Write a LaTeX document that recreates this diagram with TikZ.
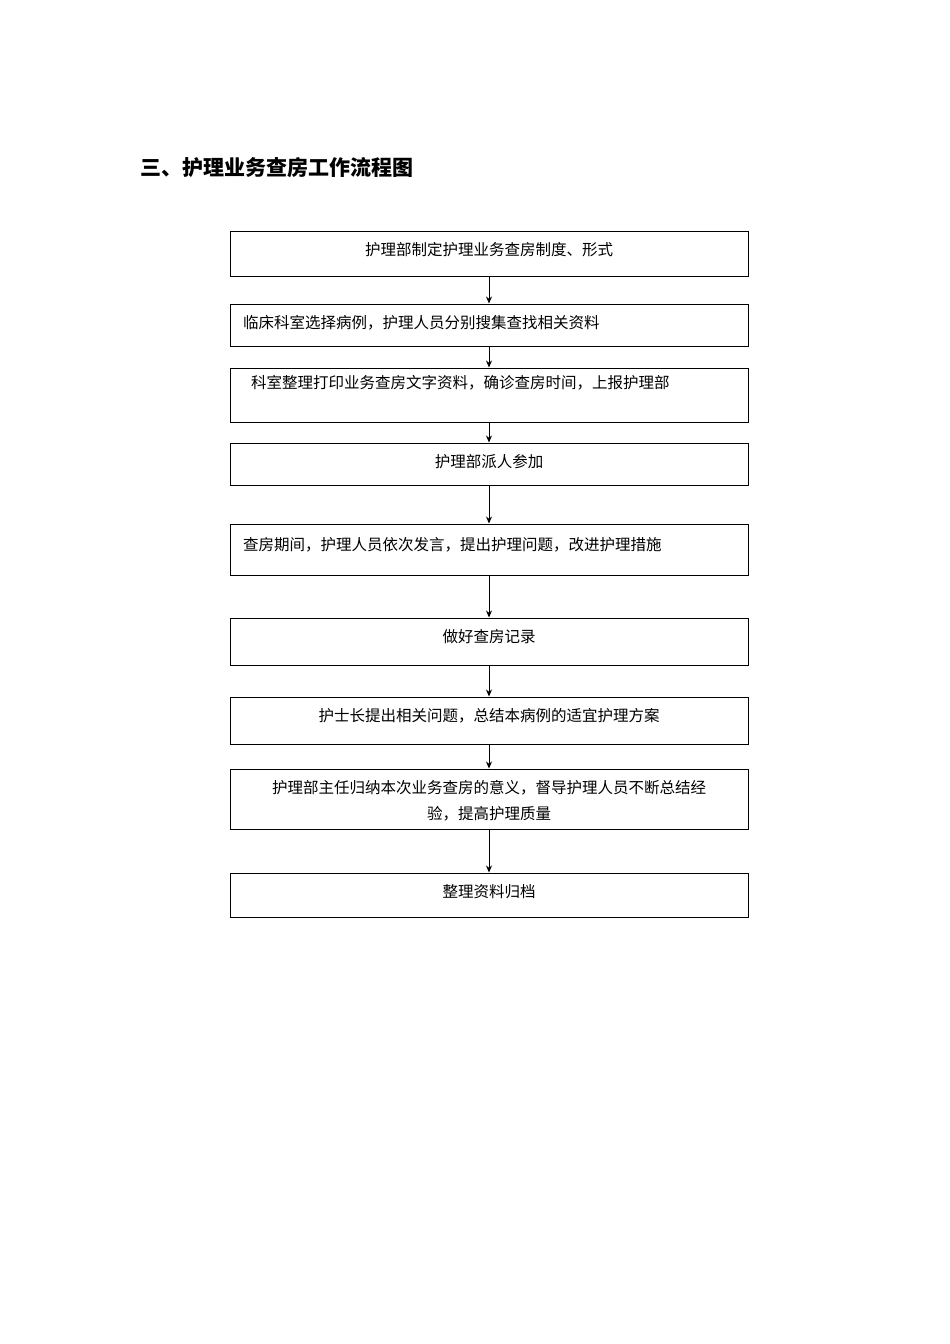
\documentclass[tikz,border=0pt]{standalone}
\usepackage{fontspec}
\newfontfamily\cjk{Noto Sans CJK SC}
\usetikzlibrary{arrows.meta}
\begin{document}
\begin{tikzpicture}[x=1pt,y=-1pt,
  box/.style={draw,line width=1pt,minimum width=518pt,inner sep=0pt},
  lbl/.style={font=\cjk\fontsize{15.5}{26}\selectfont,inner sep=0pt},
  arr/.style={-{Stealth[length=7pt,width=6pt]},line width=1pt}]
\useasboundingbox (0,0) rectangle (950,1344);
\node[anchor=west,font=\cjk\bfseries\fontsize{21}{24}\selectfont,inner sep=0pt] (title) at (140,168) {三、护理业务查房工作流程图};
\node[box,minimum height=45pt] (b1) at (489,253.5) {};
\node[box,minimum height=42pt] (b2) at (489,325) {};
\node[box,minimum height=54pt] (b3) at (489,395) {};
\node[box,minimum height=42pt] (b4) at (489,464) {};
\node[box,minimum height=51pt] (b5) at (489,549.5) {};
\node[box,minimum height=47pt] (b6) at (489,641.5) {};
\node[box,minimum height=47pt] (b7) at (489,720.5) {};
\node[box,minimum height=60pt] (b8) at (489,799) {};
\node[box,minimum height=44pt] (b9) at (489,895) {};
\node[lbl] (t1) at (489,250) {护理部制定护理业务查房制度、形式};
\node[lbl,anchor=west] (t2) at (243,323) {临床科室选择病例，护理人员分别搜集查找相关资料};
\node[lbl,anchor=west] (t3) at (251,383) {科室整理打印业务查房文字资料，确诊查房时间，上报护理部};
\node[lbl] (t4) at (489,462) {护理部派人参加};
\node[lbl,anchor=west] (t5) at (243,545) {查房期间，护理人员依次发言，提出护理问题，改进护理措施};
\node[lbl] (t6) at (489,637) {做好查房记录};
\node[lbl] (t7) at (489,716) {护士长提出相关问题，总结本病例的适宜护理方案};
\node[lbl,align=center] (t8) at (489,801) {护理部主任归纳本次业务查房的意义，督导护理人员不断总结经\\验，提高护理质量};
\node[lbl] (t9) at (489,892) {整理资料归档};
\foreach \a/\b in {b1/b2,b2/b3,b3/b4,b4/b5,b5/b6,b6/b7,b7/b8,b8/b9}
  \draw[arr] (\a.south) -- (\b.north);
\end{tikzpicture}
\end{document}
